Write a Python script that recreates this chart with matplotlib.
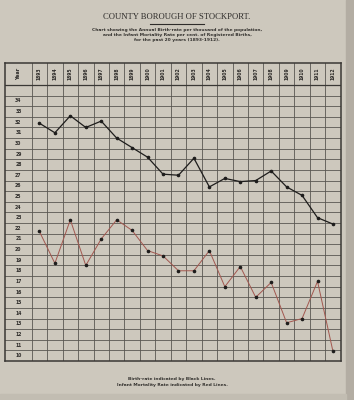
import matplotlib
matplotlib.use("Agg")
import matplotlib.pyplot as plt
from matplotlib.patches import Rectangle

years = list(range(1893, 1913))
birth_rate = [31.9, 31.0, 32.6, 31.5, 32.1, 30.5, 29.6, 28.7, 27.1, 27.0,
              28.6, 25.9, 26.7, 26.4, 26.5, 27.4, 25.9, 25.1, 23.0, 22.4]
infant_mortality = [21.7, 18.7, 22.8, 18.5, 21.0, 22.8, 21.8, 19.9, 19.4, 18.0,
                    18.0, 19.9, 16.5, 18.4, 15.5, 16.9, 13.1, 13.5, 17.0, 10.4]
scale_values = list(range(34, 9, -1))

title = "COUNTY BOROUGH OF STOCKPORT."
subtitle = ("Chart showing the Annual Birth-rate per thousand of the population,\n"
            "and the Infant Mortality Rate per cent. of Registered Births,\n"
            "for the past 20 years (1893-1912).")
footer = ("Birth-rate indicated by Black Lines.\n"
          "Infant Mortality Rate indicated by Red Lines.")

paper = "#cdc8bd"
ink = "#3a3835"

W, H = 354, 400
fig = plt.figure(figsize=(W / 100, H / 100), dpi=100, facecolor=paper)

# darker scan edges
fig.patches.append(Rectangle((346 / W, 0), 8 / W, 1, transform=fig.transFigure,
                             color="#b3ada3", zorder=0))
fig.patches.append(Rectangle((0, 0), 346 / W, 6 / H, transform=fig.transFigure,
                             color="#c2bdb2", zorder=0))

left_px, right_px, top_px, bot_px = 5, 340.7, 63, 361
ax = fig.add_axes([left_px / W, 1 - bot_px / H, (right_px - left_px) / W,
                   (bot_px - top_px) / H])
ax.set_facecolor(paper)

n = len(years)
col_px = (right_px - 31.7) / n
year_col_units = (31.7 - left_px) / col_px
ax.set_xlim(-0.5 - year_col_units, n - 0.5)
header_units = (85 - top_px) / ((bot_px - 85) / 26.0)
ax.set_ylim(9.5, 35.5 + header_units)

# grid
ax.set_xticks([i - 0.5 for i in range(n + 1)])
ax.set_yticks([v + 0.5 for v in range(9, 36)])
ax.tick_params(length=0, labelbottom=False, labelleft=False)
ax.grid(True, color="#5a5752", linewidth=0.6)
ax.axhline(35.5, color=ink, linewidth=0.9)
for s in ax.spines.values():
    s.set_color(ink)
    s.set_linewidth(1.1)

# scale labels in year column
xlab = -0.5 - year_col_units / 2
for v in scale_values:
    ax.text(xlab, v, str(v), ha="center", va="center", fontsize=3.3,
            fontweight="bold", color="#2e2c2a")

# header
yhead = 35.5 + header_units / 2
ax.text(xlab, yhead, "Year", rotation=90, ha="center", va="center",
        fontsize=3.5, fontweight="bold", color="#2e2c2a")
for i, y in enumerate(years):
    ax.text(i, yhead, str(y), rotation=90, ha="center", va="center",
            fontsize=3.3, fontweight="bold", color="#2e2c2a")

x = list(range(n))
ax.plot(x, birth_rate, color="#1e1d1c", linewidth=0.9, marker="o",
        markersize=1.6, zorder=5)
ax.plot(x, infant_mortality, color="#a2574f", linewidth=0.7, marker="o",
        markersize=1.6, markerfacecolor="#1e1d1c", markeredgecolor="#1e1d1c",
        zorder=5)

# titles
fig.text(177 / W, 1 - 17 / H, title, ha="center", va="center",
         family="Liberation Serif", fontsize=6.2, color="#2e2c2a")
fig.add_artist(plt.Line2D([150 / W, 204 / W], [1 - 23.5 / H, 1 - 23.5 / H],
                          color="#2e2c2a", linewidth=0.8))
fig.text(177 / W, 1 - 35 / H, subtitle, ha="center", va="center",
         fontsize=3.2, fontweight="bold", color="#33312e", linespacing=1.4)
fig.text(172 / W, 1 - 382 / H, footer, ha="center", va="center",
         fontsize=3.2, fontweight="bold", color="#33312e", linespacing=1.4)

fig.savefig("out.png", dpi=100, facecolor=paper)
